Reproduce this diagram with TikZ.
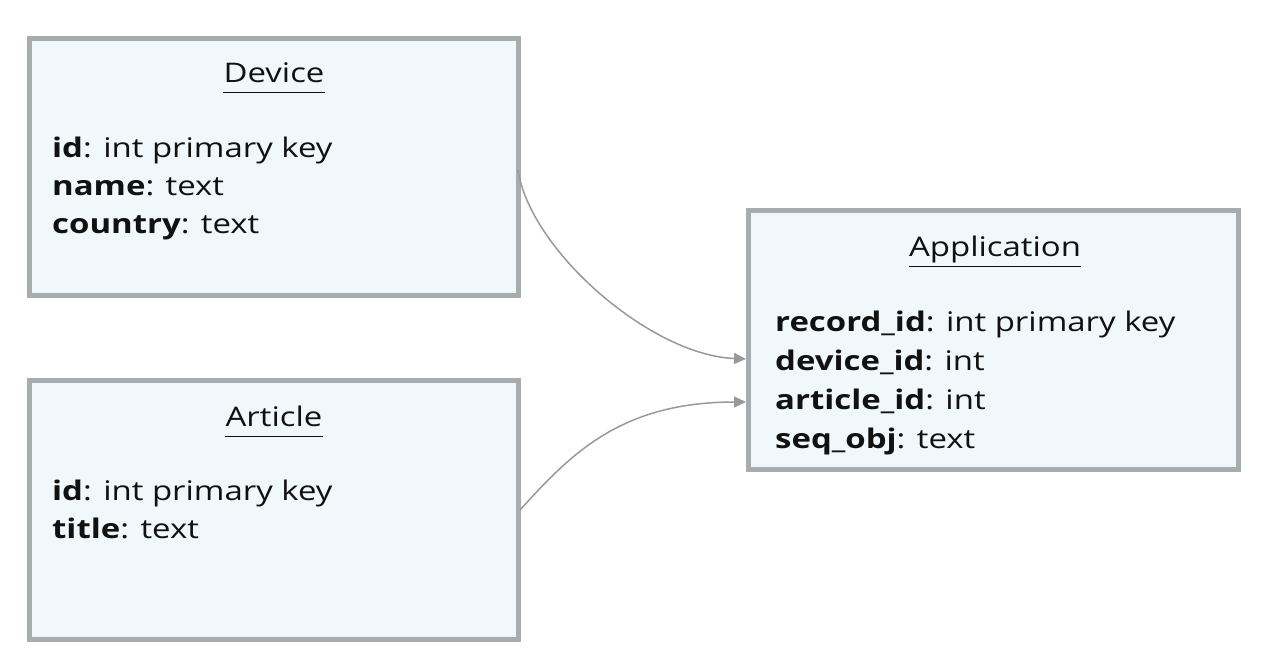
\documentclass[tikz,border=0pt]{standalone}
\usepackage{fontspec}
\setmainfont{Open Sans}[FakeStretch=1.22]
\usetikzlibrary{arrows.meta}
\definecolor{boxborder}{HTML}{A7ACAE}
\definecolor{boxfill}{HTML}{F0F8FB}
\definecolor{arrowgray}{HTML}{999999}
\definecolor{ink}{HTML}{111111}
\tikzset{
  entity/.style={draw=boxborder, fill=boxfill, line width=5pt, rectangle, inner sep=0pt},
  ttl/.style={anchor=base, inner sep=0pt, text=ink, font=\fontsize{27}{32}\selectfont},
  fld/.style={anchor=base west, inner sep=0pt, text=ink, font=\fontsize{27}{32}\selectfont},
  uline/.style={draw=ink, line width=1.8pt},
  rel/.style={draw=arrowgray, line width=1.5pt, -{Triangle[length=12pt,width=11pt]}}
}
\begin{document}
\begin{tikzpicture}[x=1pt,y=-1pt]
\useasboundingbox (0,0) rectangle (1268,670);
\node[entity, minimum width=489pt, minimum height=257pt] (device) at (274,167) {};
\node[entity, minimum width=489pt, minimum height=259pt] (article) at (274,510) {};
\node[entity, minimum width=490pt, minimum height=259pt] (app) at (993.5,340) {};

\node[ttl] (devt) at (274,82) {Device};
\draw[uline] ([yshift=-10.5pt]devt.base west) -- ([yshift=-10.5pt]devt.base east);
\node[fld] (dev1) at (52,157) {\textbf{id}: int primary key};
\node[fld] (dev2) at (52,195) {\textbf{name}: text};
\node[fld] (dev3) at (52,233) {\textbf{country}: text};

\node[ttl] (artt) at (274,426) {Article};
\draw[uline] ([yshift=-10.5pt]artt.base west) -- ([yshift=-10.5pt]artt.base east);
\node[fld] (art1) at (52,500) {\textbf{id}: int primary key};
\node[fld] (art2) at (52,538) {\textbf{title}: text};

\node[ttl] (appt) at (995,256) {Application};
\draw[uline] ([yshift=-10.5pt]appt.base west) -- ([yshift=-10.5pt]appt.base east);
\node[fld] (app1) at (775,331) {\textbf{record\_id}: int primary key};
\node[fld] (app2) at (775,370) {\textbf{device\_id}: int};
\node[fld] (app3) at (775,409) {\textbf{article\_id}: int};
\node[fld] (app4) at (775,448) {\textbf{seq\_obj}: text};

\draw[rel] ([yshift=-3pt,xshift=-3pt]device.east) .. controls (530,250) and (650,355) .. ([yshift=-19pt]app.west);
\draw[rel] ([xshift=-1pt]article.east) .. controls (570,455) and (620,402) .. ([yshift=-62pt]app.west);
\end{tikzpicture}
\end{document}
